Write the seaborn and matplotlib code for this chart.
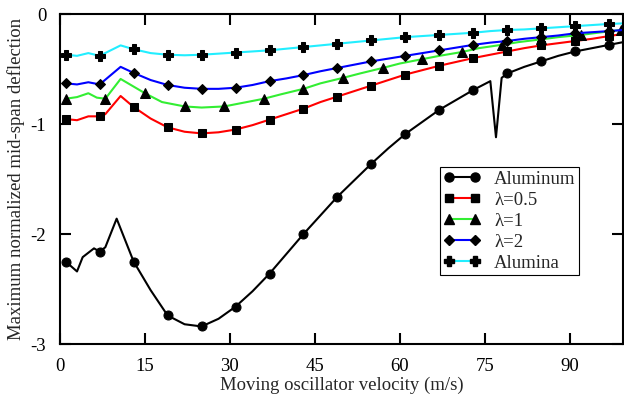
import matplotlib
matplotlib.use("Agg")
import matplotlib.pyplot as plt
from matplotlib.lines import Line2D
import seaborn as sns
import pandas as pd

# velocity grids (m/s) and max normalized mid-span deflection
x_al = [1, 3, 4, 6, 7, 8, 10, 13, 16, 19, 22, 25, 28, 31, 34, 37, 40, 43, 46, 49, 52, 55,
        58, 61, 64, 67, 70, 73, 76, 77, 78, 79, 82, 85, 88, 91, 94, 97, 99.5]
y_al = [-2.25, -2.34, -2.21, -2.13, -2.16, -2.12, -1.86, -2.25, -2.51, -2.74, -2.82, -2.84,
        -2.77, -2.66, -2.52, -2.36, -2.18, -2.00, -1.83, -1.66, -1.51, -1.36, -1.22, -1.09,
        -0.98, -0.87, -0.78, -0.69, -0.61, -1.12, -0.58, -0.54, -0.48, -0.43, -0.38, -0.34,
        -0.31, -0.28, -0.255]

x_l05 = [1, 3, 5, 7, 8, 10.7, 13, 16, 19, 22, 25, 28, 31, 34, 37, 40, 43, 46, 49, 52, 55, 58,
         61, 64, 67, 70, 73, 76, 79, 82, 85, 88, 91, 94, 97, 99.5]
y_l05 = [-0.955, -0.965, -0.93, -0.93, -0.91, -0.745, -0.845, -0.95, -1.03, -1.07, -1.085,
         -1.075, -1.05, -1.01, -0.96, -0.91, -0.86, -0.80, -0.75, -0.70, -0.65, -0.60, -0.55,
         -0.51, -0.47, -0.435, -0.40, -0.37, -0.34, -0.31, -0.285, -0.265, -0.245, -0.225,
         -0.20, -0.18]

x_l1 = [1, 3, 5, 6.5, 8, 10.7, 15, 18, 22, 25, 29, 32, 36, 39, 43, 46, 50, 53, 57, 60, 64, 67,
        71, 74, 78, 81, 85, 88, 92, 95, 99, 99.5]
y_l1 = [-0.77, -0.755, -0.72, -0.76, -0.77, -0.59, -0.72, -0.80, -0.84, -0.85, -0.84, -0.81,
        -0.77, -0.73, -0.68, -0.63, -0.58, -0.54, -0.49, -0.45, -0.41, -0.38, -0.345, -0.31,
        -0.28, -0.255, -0.23, -0.21, -0.19, -0.17, -0.145, -0.142]

x_l2 = [1, 3, 5, 7, 10.7, 13, 16, 19, 22, 25, 28, 31, 34, 37, 40, 43, 46, 49, 52, 55, 58, 61,
        64, 67, 70, 73, 76, 79, 82, 85, 88, 91, 94, 97, 99.5]
y_l2 = [-0.63, -0.64, -0.62, -0.64, -0.48, -0.535, -0.60, -0.645, -0.67, -0.68, -0.68, -0.67,
        -0.645, -0.61, -0.585, -0.555, -0.52, -0.49, -0.46, -0.43, -0.405, -0.38, -0.355,
        -0.33, -0.305, -0.28, -0.26, -0.245, -0.225, -0.21, -0.195, -0.175, -0.165, -0.155,
        -0.145]

x_ala = x_l2
y_ala = [-0.37, -0.38, -0.355, -0.38, -0.285, -0.32, -0.355, -0.37, -0.375, -0.37, -0.36,
         -0.35, -0.34, -0.33, -0.315, -0.30, -0.285, -0.27, -0.255, -0.24, -0.225, -0.21,
         -0.20, -0.19, -0.18, -0.17, -0.155, -0.145, -0.14, -0.13, -0.12, -0.11, -0.10, -0.09,
         -0.085]

marks6 = list(range(1, 98, 6))   # marker positions for most curves
marks7 = list(range(1, 100, 7))  # lambda=1 curve uses a different spacing

series = [
    ("Aluminum", x_al, y_al, "black", "o", 6.5, marks6),
    ("\u03bb=0.5", x_l05, y_l05, "#ff0000", "s", 5.8, marks6),
    ("\u03bb=1", x_l1, y_l1, "#33ee33", "^", 6.5, marks7),
    ("\u03bb=2", x_l2, y_l2, "#0000ff", "D", 5.5, marks6),
    ("Alumina", x_ala, y_ala, "#22eeff", "P", 7, marks6),
]

sns.set_style("ticks")
plt.rcParams["font.family"] = ["Liberation Serif", "DejaVu Serif"]
plt.rcParams["axes.unicode_minus"] = False
plt.rcParams["font.size"] = 13.5

fig = plt.figure(figsize=(6.24, 4.01), dpi=100)
ax = fig.add_axes([0.0962, 0.142, 0.9028, 0.823])

handles = []
for name, xs, ys, col, mk, ms, marks in series:
    df = pd.DataFrame({"v": xs, "d": ys})
    idx = [xs.index(m) for m in marks]
    sns.lineplot(data=df, x="v", y="d", ax=ax, color=col, lw=1.5, sort=False,
                 marker=mk, markersize=ms, markevery=idx,
                 markerfacecolor="black", markeredgecolor="black")
    handles.append(Line2D([], [], color=col, lw=1.5, marker=mk, markersize=ms,
                          markerfacecolor="black", markeredgecolor="black", label=name))

ax.set_xlim(0, 99.5)
ax.set_ylim(-3, 0)
ax.set_xticks([0, 15, 30, 45, 60, 75, 90])
ax.set_yticks([0, -1, -2, -3])
ax.set_yticklabels(["0", "-1", "-2", "-3"])
ax.tick_params(direction="in", length=8, width=1.5, top=True, right=True,
               labelsize=13.5, pad=10, colors="black")
for s in ax.spines.values():
    s.set_visible(True)
    s.set_linewidth(1.5)
    s.set_color("black")

ax.set_xlabel("Moving oscillator velocity (m/s)", fontsize=13.5, labelpad=1)
ax.set_ylabel("Maximum normalized mid-span deflection", fontsize=13.5, labelpad=4)

leg = ax.legend(handles=handles, loc="upper left", bbox_to_anchor=(0.674, 0.536),
                borderaxespad=0, numpoints=2, handlelength=2.0, handletextpad=0.7,
                labelspacing=0.2, borderpad=0.2, fancybox=False, framealpha=1,
                edgecolor="black", fontsize=13.5)
leg.get_frame().set_linewidth(0.8)

fig.savefig("out.png", dpi=100)
